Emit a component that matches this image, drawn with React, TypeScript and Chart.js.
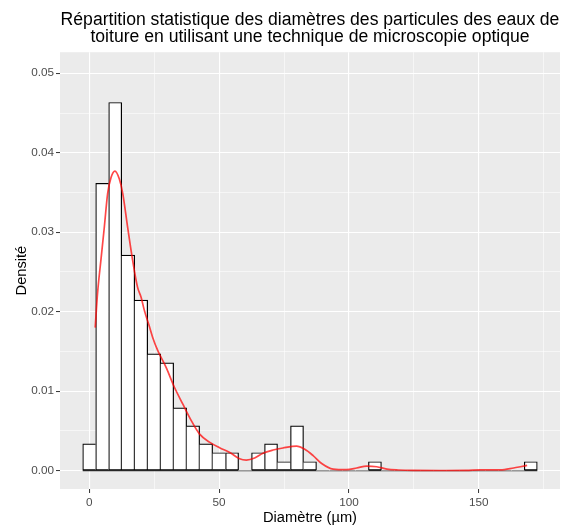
import React, { useEffect, useRef } from "react";
import { Chart, registerables } from "chart.js";

Chart.register(...registerables);

// ---- Data ----
const titleLines = [
  "Répartition statistique des diamètres des particules des eaux de",
  "toiture en utilisant une technique de microscopie optique",
];
const xTitle = "Diamètre (µm)";
const yTitle = "Densité";

const binWidth = 5;
const binCenters = [
  0, 5, 10, 15, 20, 25, 30, 35, 40, 45,
  50, 55, 60, 65, 70, 75, 80, 85, 90, 95,
  100, 105, 110, 115, 120, 125, 130, 135, 140, 145,
  150, 155, 160, 165, 170,
];
const binCounts = [
  3, 32, 41, 24, 19, 13, 12, 7, 5, 3,
  2, 2, 0, 2, 3, 1, 5, 1, 0, 0,
  0, 0, 1, 0, 0, 0, 0, 0, 0, 0,
  0, 0, 0, 0, 1,
];

const densityX = [
  2.3, 3.2, 4.5, 5.8, 7.1, 8.4, 9.9, 11.6, 12.9, 14.8, 16.7, 18.6, 20.0, 21.2, 23.2,
  24.4, 26.4, 29.6, 32.8, 36.0, 39.3, 42.5, 46.3, 50.2, 54.1, 57.9, 60.5, 63.7, 66.9,
  70.8, 74.6, 79.8, 83.0, 86.2, 89.5, 93.9, 99.1, 103.0, 106.8, 110.7, 114.6, 119.0,
  125, 135, 145, 150.6, 158.3, 163.4, 166.0, 168.6,
];
const densityY = [
  0.0180, 0.0223, 0.0265, 0.0306, 0.0349, 0.0369, 0.0377, 0.0367, 0.0349, 0.0306, 0.0265,
  0.0231, 0.0218, 0.0202, 0.0181, 0.0168, 0.0151, 0.0130, 0.0105, 0.0084, 0.0063, 0.0046,
  0.0036, 0.0029, 0.0023, 0.0015, 0.00134, 0.0016, 0.0022, 0.0026, 0.00286, 0.0031, 0.0027,
  0.0019, 0.0009, 0.0002, 0.00013, 0.00034, 0.00059, 0.0005, 0.0002, 0.00009,
  0.00004, 0.00003, 0.00004, 0.0001, 0.0001, 0.00034, 0.0005, 0.00067,
];

const xMajorTicks = [0, 50, 100, 150];
const xMinorTicks = [25, 75, 125, 175];
const yMajorTicks = [0, 0.01, 0.02, 0.03, 0.04, 0.05];
const yMinorTicks = [0.005, 0.015, 0.025, 0.035, 0.045];

const xRange = [-11.25, 181.25];
const yRange = [-0.0023, 0.05265];

// ---- Derived ----
const total = binCounts.reduce((a, b) => a + b, 0);
const binDensity = binCounts.map((c) => c / (total * binWidth));

const FONT = "'Liberation Sans', Arial, Helvetica, sans-serif";

const isMajor = (list: number[], v: number) => list.some((m) => Math.abs(m - v) < 1e-9);

const panelBg = {
  id: "panelBg",
  beforeDraw(chart: any) {
    const { ctx, chartArea, width, height } = chart;
    ctx.save();
    ctx.fillStyle = "#FFFFFF";
    ctx.fillRect(0, 0, width, height);
    ctx.fillStyle = "#EBEBEB";
    ctx.fillRect(chartArea.left, chartArea.top, chartArea.right - chartArea.left, chartArea.bottom - chartArea.top);
    ctx.restore();
  },
};

export default function App() {
  const ref = useRef<HTMLCanvasElement | null>(null);

  useEffect(() => {
    if (!ref.current) return;
    Chart.defaults.font.family = FONT;
    const n = binCounts.length;
    const chart = new Chart(ref.current, {
      type: "bar",
      data: {
        datasets: [
          {
            type: "line",
            label: "densité",
            data: densityX.map((x, i) => ({ x, y: densityY[i] })),
            borderColor: "rgba(255,0,0,0.72)",
            borderWidth: 1.7,
            pointRadius: 0,
            cubicInterpolationMode: "monotone",
            order: 0,
          } as any,
          {
            type: "bar",
            label: "histogramme",
            data: binCenters.map((x, i) => ({ x, y: binDensity[i] })),
            backgroundColor: "#FFFFFF",
            borderColor: "#000000",
            borderSkipped: false,
            borderWidth: (ctx: any) => {
              const i = ctx.dataIndex;
              const v = binCounts[i];
              if (!v) return 0;
              const prev = i > 0 ? binCounts[i - 1] : 0;
              const next = i < n - 1 ? binCounts[i + 1] : 0;
              return { top: 1.2, bottom: 1.2, left: prev <= v ? 1.2 : 0, right: next < v ? 1.2 : 0 };
            },
            barPercentage: 1,
            categoryPercentage: 1,
            grouped: false,
            order: 1,
          } as any,
          {
            type: "line",
            label: "base",
            data: [
              { x: binCenters[0] - binWidth / 2, y: 0 },
              { x: binCenters[n - 1] + binWidth / 2, y: 0 },
            ],
            borderColor: "#333333",
            borderWidth: 1.2,
            pointRadius: 0,
            order: 2,
          } as any,
        ],
      },
      options: {
        animation: false,
        responsive: false,
        devicePixelRatio: 1,
        layout: { padding: { top: 0, right: 10, bottom: 0, left: 0 } },
        plugins: {
          legend: { display: false },
          tooltip: { enabled: false },
          title: {
            display: true,
            text: titleLines,
            fullSize: false,
            color: "#000000",
            font: { size: 17.6, weight: "normal", family: FONT, lineHeight: 1.0 },
            padding: { top: 11, bottom: 6 },
          },
        },
        scales: {
          x: {
            type: "linear",
            min: xRange[0],
            max: xRange[1],
            offset: false,
            afterBuildTicks: (s: any) => {
              s.ticks = [...xMajorTicks, ...xMinorTicks].sort((a, b) => a - b).map((v) => ({ value: v }));
            },
            afterFit: (s: any) => {
              s.height = 38;
            },
            ticks: {
              autoSkip: false,
              maxRotation: 0,
              padding: 3,
              color: "#4D4D4D",
              font: { size: 11.73, family: FONT },
              callback: (v: any) => (isMajor(xMajorTicks, Number(v)) ? String(v) : ""),
            },
            grid: {
              offset: false,
              color: "#FFFFFF",
              lineWidth: (ctx: any) => (ctx.tick && isMajor(xMajorTicks, ctx.tick.value) ? 1.1 : 0.55),
              tickColor: (ctx: any) => (ctx.tick && isMajor(xMajorTicks, ctx.tick.value) ? "#333333" : "rgba(0,0,0,0)"),
              tickWidth: 1,
              tickLength: 4,
              drawTicks: true,
            },
            border: { display: false },
            title: {
              display: true,
              text: xTitle,
              color: "#000000",
              font: { size: 14.67, family: FONT },
              padding: { top: 0, bottom: 0 },
            },
          },
          y: {
            type: "linear",
            min: yRange[0],
            max: yRange[1],
            afterBuildTicks: (s: any) => {
              s.ticks = [...yMajorTicks, ...yMinorTicks].sort((a, b) => a - b).map((v) => ({ value: v }));
            },
            afterFit: (s: any) => {
              s.width = 60;
            },
            ticks: {
              autoSkip: false,
              padding: 2,
              color: "#4D4D4D",
              font: { size: 11.73, family: FONT },
              callback: (v: any) => (isMajor(yMajorTicks, Number(v)) ? Number(v).toFixed(2) : ""),
            },
            grid: {
              color: "#FFFFFF",
              lineWidth: (ctx: any) => (ctx.tick && isMajor(yMajorTicks, ctx.tick.value) ? 1.1 : 0.55),
              tickColor: (ctx: any) => (ctx.tick && isMajor(yMajorTicks, ctx.tick.value) ? "#333333" : "rgba(0,0,0,0)"),
              tickWidth: 1,
              tickLength: 4,
              drawTicks: true,
            },
            border: { display: false },
            title: {
              display: true,
              text: yTitle,
              color: "#000000",
              font: { size: 14.67, family: FONT },
              padding: { top: 13, bottom: 0 },
            },
          },
        },
      } as any,
      plugins: [panelBg],
    });
    return () => chart.destroy();
  }, []);

  return (
    <div style={{ position: "absolute", left: 0, top: 0, width: 570, height: 527, background: "#FFFFFF" }}>
      <canvas ref={ref} width={570} height={527} style={{ display: "block", width: 570, height: 527 }} />
    </div>
  );
}
